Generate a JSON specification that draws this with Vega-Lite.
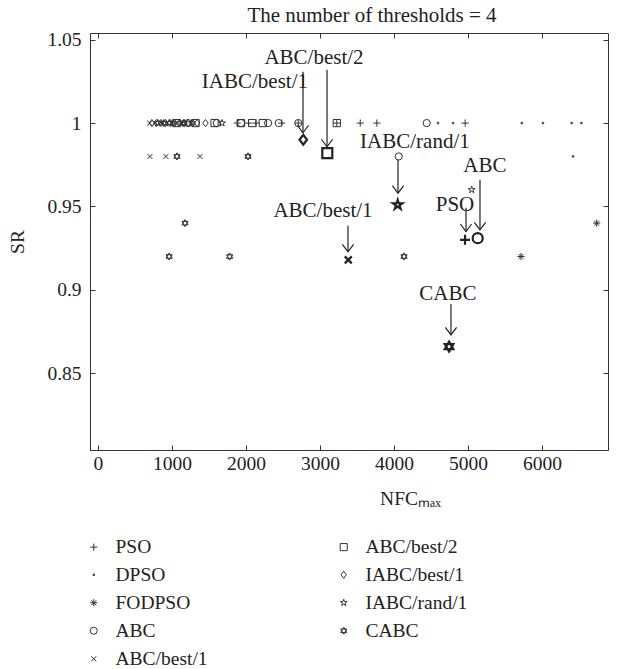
{
  "$schema": "https://vega.github.io/schema/vega-lite/v6.json",
  "width": 518,
  "height": 417,
  "autosize": {"type": "none"},
  "padding": {"left": 90, "top": 33, "right": 16, "bottom": 219},
  "title": {"text": "The number of thresholds = 4", "fontSize": 21, "font": "Liberation Serif", "fontWeight": "normal", "color": "#222", "offset": 4, "frame": "group", "dx": 23},
  "config": {
    "font": "Liberation Serif",
    "view": {"stroke": "#333", "strokeWidth": 1},
    "axis": {"labelFontSize": 19.5, "titleFontSize": 19.5, "titleFontWeight": "normal", "labelColor": "#222", "titleColor": "#222", "domainColor": "#333", "tickColor": "#333", "grid": false, "labelFont": "Liberation Serif", "titleFont": "Liberation Serif"}
  },
  "datasets": {
    "points": [
      {"algorithm": "ABC/best/1", "NFC": 697, "SR": 1},
      {"algorithm": "ABC/best/1", "NFC": 768, "SR": 1},
      {"algorithm": "ABC/best/1", "NFC": 860, "SR": 1},
      {"algorithm": "IABC/best/1", "NFC": 728, "SR": 1},
      {"algorithm": "IABC/best/1", "NFC": 789, "SR": 1},
      {"algorithm": "IABC/best/1", "NFC": 850, "SR": 1},
      {"algorithm": "IABC/best/1", "NFC": 911, "SR": 1},
      {"algorithm": "IABC/best/1", "NFC": 973, "SR": 1},
      {"algorithm": "IABC/best/1", "NFC": 1034, "SR": 1},
      {"algorithm": "IABC/best/1", "NFC": 1095, "SR": 1},
      {"algorithm": "IABC/best/1", "NFC": 1156, "SR": 1},
      {"algorithm": "IABC/best/1", "NFC": 1218, "SR": 1},
      {"algorithm": "IABC/best/1", "NFC": 1279, "SR": 1},
      {"algorithm": "IABC/best/1", "NFC": 1340, "SR": 1},
      {"algorithm": "IABC/best/1", "NFC": 1452, "SR": 1},
      {"algorithm": "IABC/rand/1", "NFC": 809, "SR": 1},
      {"algorithm": "IABC/rand/1", "NFC": 962, "SR": 1},
      {"algorithm": "IABC/rand/1", "NFC": 1115, "SR": 1},
      {"algorithm": "IABC/rand/1", "NFC": 1268, "SR": 1},
      {"algorithm": "IABC/rand/1", "NFC": 1677, "SR": 1},
      {"algorithm": "CABC", "NFC": 891, "SR": 1},
      {"algorithm": "CABC", "NFC": 1013, "SR": 1},
      {"algorithm": "CABC", "NFC": 1166, "SR": 1},
      {"algorithm": "ABC/best/2", "NFC": 1064, "SR": 1},
      {"algorithm": "ABC/best/2", "NFC": 1319, "SR": 1},
      {"algorithm": "ABC/best/2", "NFC": 1575, "SR": 1},
      {"algorithm": "ABC/best/2", "NFC": 1932, "SR": 1},
      {"algorithm": "ABC/best/2", "NFC": 2085, "SR": 1},
      {"algorithm": "ABC/best/2", "NFC": 2227, "SR": 1},
      {"algorithm": "ABC/best/2", "NFC": 3227, "SR": 1},
      {"algorithm": "ABC", "NFC": 1218, "SR": 1},
      {"algorithm": "ABC", "NFC": 1605, "SR": 1},
      {"algorithm": "ABC", "NFC": 1932, "SR": 1},
      {"algorithm": "ABC", "NFC": 2299, "SR": 1},
      {"algorithm": "ABC", "NFC": 2442, "SR": 1},
      {"algorithm": "ABC", "NFC": 2707, "SR": 1},
      {"algorithm": "ABC", "NFC": 4442, "SR": 1},
      {"algorithm": "PSO", "NFC": 1881, "SR": 1},
      {"algorithm": "PSO", "NFC": 2034, "SR": 1},
      {"algorithm": "PSO", "NFC": 2136, "SR": 1},
      {"algorithm": "PSO", "NFC": 2483, "SR": 1},
      {"algorithm": "PSO", "NFC": 2707, "SR": 1},
      {"algorithm": "PSO", "NFC": 3227, "SR": 1},
      {"algorithm": "PSO", "NFC": 3544, "SR": 1},
      {"algorithm": "PSO", "NFC": 3768, "SR": 1},
      {"algorithm": "PSO", "NFC": 4962, "SR": 1},
      {"algorithm": "DPSO", "NFC": 4595, "SR": 1},
      {"algorithm": "DPSO", "NFC": 4799, "SR": 1},
      {"algorithm": "DPSO", "NFC": 5727, "SR": 1},
      {"algorithm": "DPSO", "NFC": 6013, "SR": 1},
      {"algorithm": "DPSO", "NFC": 6401, "SR": 1},
      {"algorithm": "DPSO", "NFC": 6533, "SR": 1},
      {"algorithm": "DPSO", "NFC": 6421, "SR": 0.98},
      {"algorithm": "ABC/best/1", "NFC": 702, "SR": 0.98},
      {"algorithm": "ABC/best/1", "NFC": 918, "SR": 0.98},
      {"algorithm": "ABC/best/1", "NFC": 1379, "SR": 0.98},
      {"algorithm": "CABC", "NFC": 1067, "SR": 0.98},
      {"algorithm": "CABC", "NFC": 2027, "SR": 0.98},
      {"algorithm": "ABC", "NFC": 4064, "SR": 0.98},
      {"algorithm": "CABC", "NFC": 1176, "SR": 0.94},
      {"algorithm": "FODPSO", "NFC": 6739, "SR": 0.94},
      {"algorithm": "CABC", "NFC": 962, "SR": 0.92},
      {"algorithm": "CABC", "NFC": 1779, "SR": 0.92},
      {"algorithm": "CABC", "NFC": 4136, "SR": 0.92},
      {"algorithm": "FODPSO", "NFC": 5716, "SR": 0.92},
      {"algorithm": "IABC/rand/1", "NFC": 5050, "SR": 0.96}
    ],
    "best": [
      {"algorithm": "IABC/best/1", "NFC": 2774, "SR": 0.99},
      {"algorithm": "ABC/best/2", "NFC": 3099, "SR": 0.982},
      {"algorithm": "IABC/rand/1", "NFC": 4050, "SR": 0.951},
      {"algorithm": "PSO", "NFC": 4960, "SR": 0.93},
      {"algorithm": "ABC", "NFC": 5131, "SR": 0.931},
      {"algorithm": "ABC/best/1", "NFC": 3382, "SR": 0.918},
      {"algorithm": "CABC", "NFC": 4744, "SR": 0.866}
    ],
    "labels": [
      {"label": "ABC/best/2", "NFC": 2919, "SR": 1.0392},
      {"label": "IABC/best/1", "NFC": 2121, "SR": 1.0248},
      {"label": "IABC/rand/1", "NFC": 4283, "SR": 0.9885},
      {"label": "ABC", "NFC": 5229, "SR": 0.9745},
      {"label": "PSO", "NFC": 4824, "SR": 0.951},
      {"label": "ABC/best/1", "NFC": 3041, "SR": 0.947},
      {"label": "CABC", "NFC": 4729, "SR": 0.8975}
    ],
    "arrows": [
      {"label": "ABC/best/2", "NFC": 3095, "SR": 1.032, "SR2": 0.9858},
      {"label": "IABC/best/1", "NFC": 2770, "SR": 1.0308, "SR2": 0.9942},
      {"label": "IABC/rand/1", "NFC": 4054, "SR": 0.978, "SR2": 0.958},
      {"label": "ABC", "NFC": 5162, "SR": 0.966, "SR2": 0.936},
      {"label": "PSO", "NFC": 4973, "SR": 0.9492, "SR2": 0.935},
      {"label": "ABC/best/1", "NFC": 3378, "SR": 0.9384, "SR2": 0.9228},
      {"label": "CABC", "NFC": 4770, "SR": 0.8916, "SR2": 0.873}
    ]
  },
  "resolve": {"axis": {"x": "independent", "y": "independent"}},
  "layer": [
    {
      "data": {"name": "points"},
      "mark": {"type": "point", "filled": false, "size": 52, "strokeWidth": 1, "color": "#333", "opacity": 1},
      "encoding": {
        "x": {"field": "NFC", "type": "quantitative", "scale": {"domain": [-108, 6892], "nice": false, "zero": false},
              "axis": {"orient": "bottom", "title": "NFCₘₐₓ", "format": "d", "values": [0, 1000, 2000, 3000, 4000, 5000, 6000], "tickSize": -5, "labelPadding": 9, "titlePadding": 17, "titleX": 320, "domain": true}},
        "y": {"field": "SR", "type": "quantitative", "scale": {"domain": [0.804, 1.054], "nice": false, "zero": false},
              "axis": {"orient": "left", "title": "SR", "format": "~g", "values": [0.85, 0.9, 0.95, 1, 1.05], "tickSize": -5, "labelPadding": 14, "titlePadding": 19, "domain": true}},
        "shape": {"field": "algorithm", "type": "nominal",
          "scale": {
            "domain": ["PSO", "DPSO", "FODPSO", "ABC", "ABC/best/1", "ABC/best/2", "IABC/best/1", "IABC/rand/1", "CABC"],
            "range": [
              "M-1,0H1M0,-1V1",
              "M-0.2,-0.2H0.2V0.2H-0.2Z",
              "M-1,0H1M0,-1V1M-0.7,-0.7L0.7,0.7M-0.7,0.7L0.7,-0.7",
              "circle",
              "M-0.7,-0.7L0.7,0.7M-0.7,0.7L0.7,-0.7",
              "square",
              "M-0.75,0L0,-1L0.75,0L0,1Z",
              "M0,-1L0.225,-0.309L0.951,-0.309L0.363,0.118L0.588,0.809L0,0.382L-0.588,0.809L-0.363,0.118L-0.951,-0.309L-0.225,-0.309Z",
              "M0,-1L0.866,0.5L-0.866,0.5ZM0,1L0.866,-0.5L-0.866,-0.5Z"
            ]
          },
          "legend": {"orient": "none", "legendX": -6, "legendY": 504, "columns": 2, "title": null, "labelFontSize": 19.5, "labelFont": "Liberation Serif", "labelColor": "#222", "symbolSize": 50, "symbolStrokeWidth": 1, "symbolStrokeColor": "#333", "symbolFillColor": "transparent", "rowPadding": 7, "columnPadding": 126, "labelOffset": 12, "labelLimit": 200}
        }
      }
    },
    {
      "data": {"name": "best"},
      "mark": {"type": "point", "filled": false, "size": 100, "strokeWidth": 2.2, "color": "#222", "opacity": 1},
      "encoding": {
        "x": {"field": "NFC", "type": "quantitative", "axis": null},
        "y": {"field": "SR", "type": "quantitative", "axis": null},
        "shape": {"field": "algorithm", "type": "nominal"}
      }
    },
    {
      "data": {"name": "arrows"},
      "mark": {"type": "rule", "color": "#222", "strokeWidth": 1.2},
      "encoding": {
        "x": {"field": "NFC", "type": "quantitative",
              "axis": {"orient": "top", "labels": false, "title": null, "values": [0, 1000, 2000, 3000, 4000, 5000, 6000], "tickSize": -5, "domain": false}},
        "y": {"field": "SR", "type": "quantitative",
              "axis": {"orient": "right", "labels": false, "title": null, "values": [0.85, 0.9, 0.95, 1, 1.05], "tickSize": -5, "domain": false}},
        "y2": {"field": "SR2"}
      }
    },
    {
      "data": {"name": "arrows"},
      "mark": {"type": "point", "shape": "M-0.75,-1L0,0L0.75,-1", "size": 225, "filled": false, "strokeWidth": 1.2, "color": "#222", "opacity": 1},
      "encoding": {
        "x": {"field": "NFC", "type": "quantitative", "axis": null},
        "y": {"field": "SR2", "type": "quantitative", "axis": null}
      }
    },
    {
      "data": {"name": "labels"},
      "mark": {"type": "text", "fontSize": 21, "font": "Liberation Serif", "color": "#222", "baseline": "middle", "align": "center"},
      "encoding": {
        "x": {"field": "NFC", "type": "quantitative", "axis": null},
        "y": {"field": "SR", "type": "quantitative", "axis": null},
        "text": {"field": "label"}
      }
    }
  ]
}
